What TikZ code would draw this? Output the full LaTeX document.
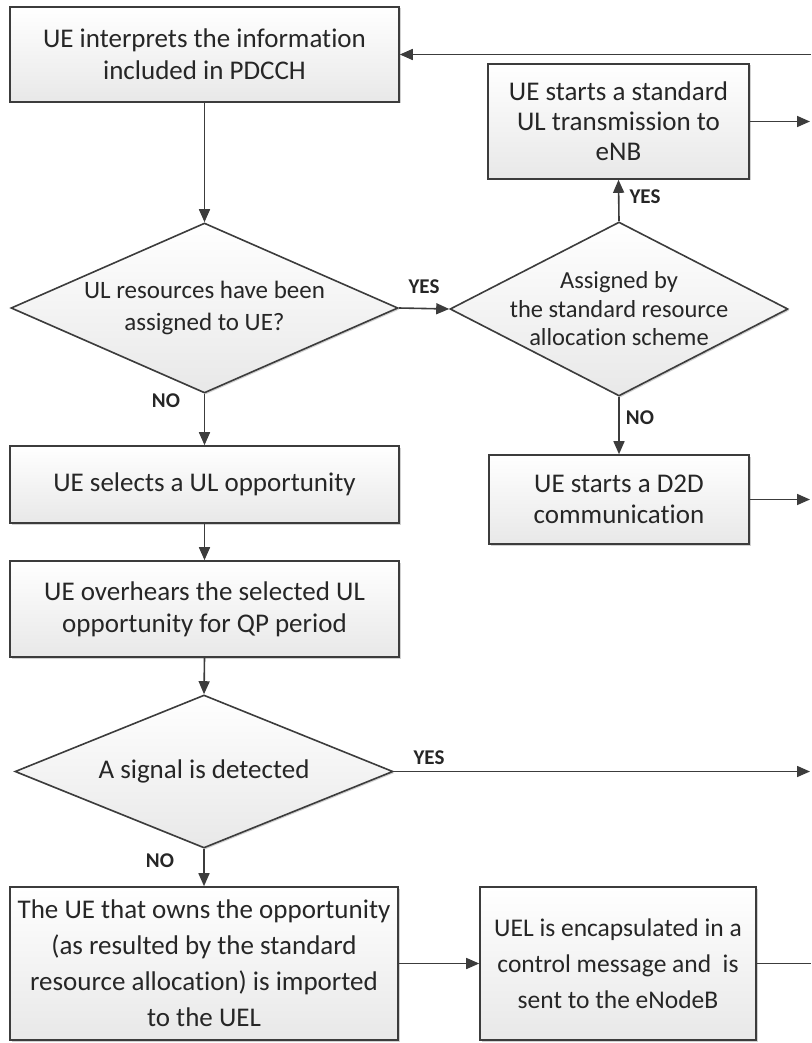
\documentclass[tikz,border=0pt]{standalone}
\usepackage{fontspec}
\setmainfont{Carlito}[Ligatures=NoCommon, RawFeature={-liga;-clig;-dlig}]
\usetikzlibrary{arrows.meta,shapes.geometric,shadows}
\definecolor{linegray}{RGB}{60,60,60}
\definecolor{textgray}{RGB}{38,38,38}
\begin{document}
\begin{tikzpicture}[x=1pt,y=-1pt,
  base/.style={draw=linegray, line width=1.6pt, top color=white, bottom color=black!9,
    drop shadow={shadow xshift=1.5pt, shadow yshift=-1.5pt, opacity=0.18, fill=black},
    inner sep=2pt, align=center, text=textgray},
  procbox/.style={base, rectangle, font=\fontsize{27}{32}\selectfont},
  decision/.style={base, diamond, inner sep=0pt, shape aspect=2},
  dtext/.style={align=center, text=textgray, inner sep=0pt},
  flow/.style={draw=linegray, line width=1.6pt, -{Triangle[length=13pt,width=11pt]}},
  plain/.style={draw=linegray, line width=1.6pt},
  answer/.style={font=\bfseries\fontsize{21}{24}\selectfont, text=textgray, inner sep=0pt}
]
\useasboundingbox (0,0) rectangle (811,1043);

% process boxes
\node[procbox, minimum width=389pt, minimum height=95pt] (interp) at (204.5,54.5)
  {UE interprets the information\\included in PDCCH};
\node[procbox, minimum width=261pt, minimum height=115pt, font=\fontsize{27}{30}\selectfont] (stdul) at (618.5,121.5)
  {UE starts a standard\\UL transmission to\\eNB};
\node[procbox, minimum width=260pt, minimum height=89pt, font=\fontsize{27}{31}\selectfont] (d2d) at (619,499.5)
  {UE starts a D2D\\communication};
\node[procbox, minimum width=389pt, minimum height=77pt] (select) at (204.5,484.5)
  {UE selects a UL opportunity};
\node[procbox, minimum width=389pt, minimum height=96pt] (overhear) at (204.5,609)
  {UE overhears the selected UL\\opportunity for QP period};
\node[procbox, minimum width=388pt, minimum height=153pt, font=\fontsize{27}{36}\selectfont] (owner) at (204,963.5)
  {The UE that owns the opportunity\\(as resulted by the standard\\resource allocation) is imported\\to the UEL};
\node[procbox, minimum width=276pt, minimum height=153pt, font=\fontsize{25.5}{36}\selectfont] (uel) at (618,963.5)
  {UEL is encapsulated in a\\control message and~ is\\sent to the eNodeB};

% decisions (shape) with their texts
\node[decision, minimum width=387pt, minimum height=170pt] (ulres) at (204.5,308) {};
\node[dtext, font=\fontsize{25}{32}\selectfont] (ulrestxt) at (ulres.center)
  {UL resources have been\\assigned to UE?};
\node[decision, minimum width=338pt, minimum height=174pt] (scheme) at (619,309) {};
\node[dtext, font=\fontsize{24.5}{28.5}\selectfont] (schemetxt) at (scheme.center)
  {Assigned by\\the standard resource\\allocation scheme};
\node[decision, minimum width=378pt, minimum height=153pt] (signal) at (204,771.5) {};
\node[dtext, font=\fontsize{27}{32}\selectfont] (signaltxt) at (signal.center)
  {A signal is detected};

% loose ends at the right border
\coordinate (backin) at (811,54.5);
\coordinate (outstd) at (810,121.5);
\coordinate (outd2d) at (810,499.5);
\coordinate (outsig) at (810,771.5);
\coordinate (outuel) at (811,963.5);

% connectors
\draw[flow] (backin) -- (interp.east);
\draw[flow] (interp.south) -- (ulres.north);
\draw[flow] (ulres.east) -- (scheme.west);
\draw[flow] (scheme.north) -- (stdul.south);
\draw[flow] (scheme.south) -- (d2d.north);
\draw[flow] (ulres.south) -- (select.north);
\draw[flow] (select.south) -- (overhear.north);
\draw[flow] (overhear.south) -- (signal.north);
\draw[flow] (signal.south) -- (owner.north);
\draw[flow] (owner.east) -- (uel.west);
\draw[flow] (stdul.east) -- (outstd);
\draw[flow] (d2d.east) -- (outd2d);
\draw[flow] (signal.east) -- (outsig);
\draw[plain] (uel.east) -- (outuel);

% branch labels
\node[answer] (yes1) at (424,287) {YES};
\node[answer] (yes2) at (645,197) {YES};
\node[answer] (no1) at (166,401) {NO};
\node[answer] (no2) at (640,418) {NO};
\node[answer] (yes3) at (429,758) {YES};
\node[answer] (no3) at (160,861) {NO};
\end{tikzpicture}
\end{document}
